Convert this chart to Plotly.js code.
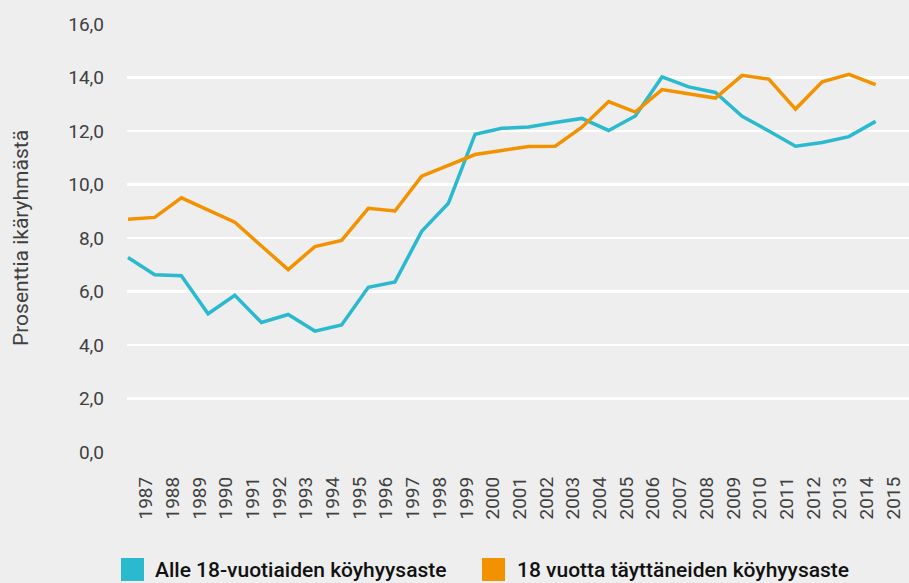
<!DOCTYPE html>
<html>
<head>
<meta charset="utf-8">
<script src="https://cdn.plot.ly/plotly-3.0.1.min.js"></script>
<style>
  html, body { margin: 0; padding: 0; background: #eeeeee; }
  #chart { width: 909px; height: 583px; }
</style>
</head>
<body>
<div id="chart"></div>
<script>
// ---- data ----
const years = [1987,1988,1989,1990,1991,1992,1993,1994,1995,1996,1997,1998,1999,2000,
               2001,2002,2003,2004,2005,2006,2007,2008,2009,2010,2011,2012,2013,2014,2015];
const alle18 = [7.27,6.63,6.59,5.17,5.86,4.84,5.14,4.52,4.75,6.16,6.36,8.25,9.30,11.88,
                12.10,12.15,12.32,12.47,12.02,12.56,14.02,13.65,13.44,12.55,12.00,11.43,11.57,11.79,12.36];
const yli18 = [8.70,8.77,9.50,9.04,8.59,7.70,6.82,7.68,7.91,9.11,9.01,10.31,10.71,11.12,
               11.27,11.42,11.43,12.14,13.10,12.71,13.55,13.39,13.23,14.08,13.94,12.82,13.84,14.12,13.73];
const seriesNames = ["Alle 18-vuotiaiden köyhyysaste", "18 vuotta täyttäneiden köyhyysaste"];
const seriesColors = ["#2bb9cf", "#f39200"];
const yTickVals = [0,2,4,6,8,10,12,14,16];
const yTickText = yTickVals.map(v => v.toFixed(1).replace(".", ","));
const yTitle = "Prosenttia ikäryhmästä";

// ---- layout helpers (pixel -> paper) ----
const W = 909, H = 583;
const M = {l: 127, r: 0, t: 24, b: 131};
const PW = W - M.l - M.r, PH = H - M.t - M.b;
const px = x => (x - M.l) / PW;
const py = y => (H - M.b - y) / PH;

const font = "Roboto, 'Open Sans', sans-serif";
const tickFont = {family: font, size: 19, color: "#404040"};

const traces = [
  {x: years, y: alle18, name: seriesNames[0], type: "scatter", mode: "lines",
   line: {color: seriesColors[0], width: 3.5}, showlegend: false, hoverinfo: "x+y"},
  {x: years, y: yli18, name: seriesNames[1], type: "scatter", mode: "lines",
   line: {color: seriesColors[1], width: 3.5}, showlegend: false, hoverinfo: "x+y"}
];

// legend drawn as squares + labels
const legendItems = [
  {sq: 121, tx: 153},
  {sq: 482, tx: 515}
];
const shapes = legendItems.map((it, i) => ({
  type: "rect", xref: "paper", yref: "paper",
  x0: px(it.sq), x1: px(it.sq + 23), y0: py(581), y1: py(558),
  fillcolor: seriesColors[i], line: {width: 0}
}));
const annotations = legendItems.map((it, i) => ({
  xref: "paper", yref: "paper", x: px(it.tx), y: py(569.5),
  xanchor: "left", yanchor: "middle", showarrow: false,
  text: seriesNames[i],
  font: {family: font, size: 21, color: "#111111", weight: 500}
}));

const layout = {
  width: W, height: H,
  margin: M,
  paper_bgcolor: "#eeeeee",
  plot_bgcolor: "#eeeeee",
  showlegend: false,
  xaxis: {
    type: "linear",
    range: [1986.963, 2016.25],
    tickmode: "array", tickvals: years, ticktext: years.map(String),
    tickangle: -90,
    ticks: "", showgrid: false, zeroline: false, showline: false,
    ticklabelstandoff: 20,
    ticklabelshift: 18,
    tickfont: tickFont,
    fixedrange: true
  },
  yaxis: {
    range: [0, 16],
    tickmode: "array", tickvals: yTickVals, ticktext: yTickText,
    ticks: "", showgrid: true, gridcolor: "#ffffff", gridwidth: 2.5,
    zeroline: false, showline: false,
    ticklabelstandoff: 22,
    tickfont: tickFont,
    title: {text: yTitle, standoff: 33,
            font: {family: font, size: 21, color: "#404040"}},
    automargin: false,
    fixedrange: true
  },
  shapes: shapes,
  annotations: annotations
};

Plotly.newPlot("chart", traces, layout, {displayModeBar: false, staticPlot: true});
</script>
</body>
</html>
